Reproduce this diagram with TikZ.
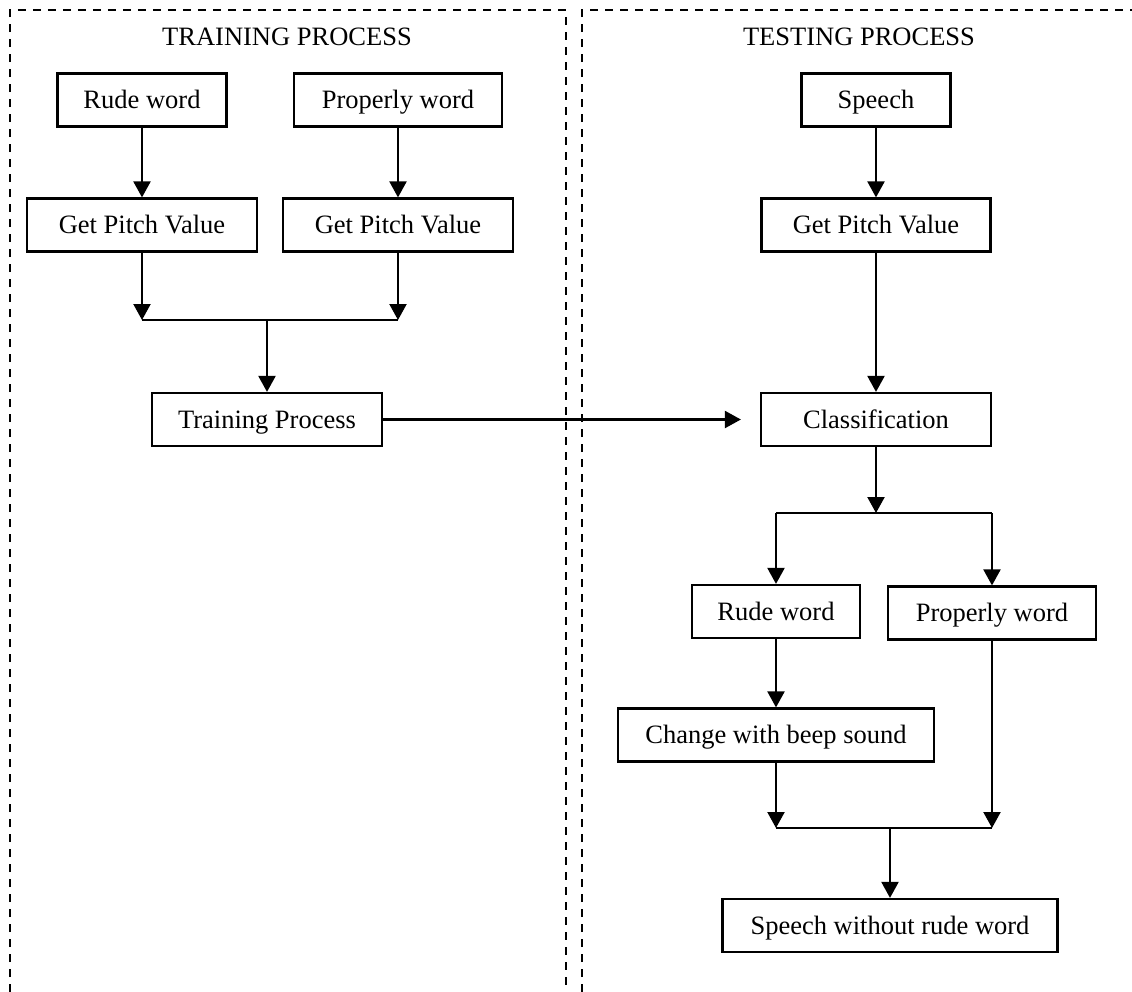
\documentclass[tikz,border=0pt]{standalone}
\usepackage{fontspec}
\setmainfont{Liberation Serif}
\usetikzlibrary{arrows.meta}

\begin{document}
\begin{tikzpicture}[x=0.5pt,y=-0.5pt]
  \tikzset{box/.style = {shape=rectangle,draw,line width=1.1pt,minimum height=26.5pt,inner sep=2pt,text height=10.2pt,text depth=1.6pt,font=\fontsize{13.25}{16}\selectfont}}
  \tikzset{title/.style = {inner sep=0pt,font=\fontsize{13.25}{16}\selectfont}}
  \tikzset{frame/.style = {line width=1pt,dash pattern=on 4pt off 3.5pt}}
  \tikzset{%
  tipB/.tip={Triangle[width=8.5pt,length=8pt]},
}
  \tikzset{edge/.style = {-tipB,line width=1.1pt}}
  \tikzset{bar/.style = {line width=1.1pt}}

  \useasboundingbox (0,0) rectangle (1132,992);
  \draw[frame] (10,992) |- (566,10) -- (566,992);
  \draw[frame] (582,992) |- (1132,10);

	\node[title] (TRP) at (287,37) {TRAINING PROCESS};
	\node[title] (TSP) at (859,37) {TESTING PROCESS};

	% training side
	\node[box,minimum width=84.5pt] (RW) at (142,100) {Rude word};
	\node[box,minimum width=104pt] (PW) at (398,100) {Properly word};
	\node[box,minimum width=115pt] (GPV1) at (142,225) {Get Pitch Value};
	\node[box,minimum width=115pt] (GPV2) at (398,225) {Get Pitch Value};
	\coordinate (J1) at (267,320);
	\node[box,minimum width=115pt] (TP) at (267,419.5) {Training Process};

	% testing side
	\node[box,minimum width=74.5pt] (SP) at (876,100) {Speech};
	\node[box,minimum width=114.5pt] (GPV3) at (876,225) {Get Pitch Value};
	\node[box,minimum width=115pt] (CL) at (876,419.5) {Classification};
	\coordinate (J2) at (876,513);
	\coordinate (J2a) at (776,513);
	\coordinate (J2b) at (992,513);
	\node[box,minimum width=84pt] (RW2) at (776,611.5) {Rude word};
	\node[box,minimum width=104pt] (PW2) at (992,613) {Properly word};
	\node[box,minimum width=158pt] (CBS) at (776,735) {Change with beep sound};
	\coordinate (J3) at (890,828);
	\node[box,minimum width=167.5pt] (SWR) at (890,925.5) {Speech without rude word};

    \foreach \from/\to in {RW/GPV1, PW/GPV2, J1/TP, SP/GPV3, GPV3/CL, CL/J2, J2a/RW2, J2b/PW2, RW2/CBS, J3/SWR}
    \path[edge](\from) edge (\to);

    \foreach \from in {GPV1, GPV2}
    \draw[edge] (\from) -- (\from |- J1);
    \draw[bar] (GPV1 |- J1) -- (GPV2 |- J1);

    \draw[bar] (J2a) -- (J2b);

    \foreach \from in {CBS, PW2}
    \draw[edge] (\from) -- (\from |- J3);
    \draw[bar] (CBS |- J3) -- (PW2 |- J3);

    \draw[edge,shorten >=9.5pt] (TP) -- (CL);

\end{tikzpicture}
\end{document}
